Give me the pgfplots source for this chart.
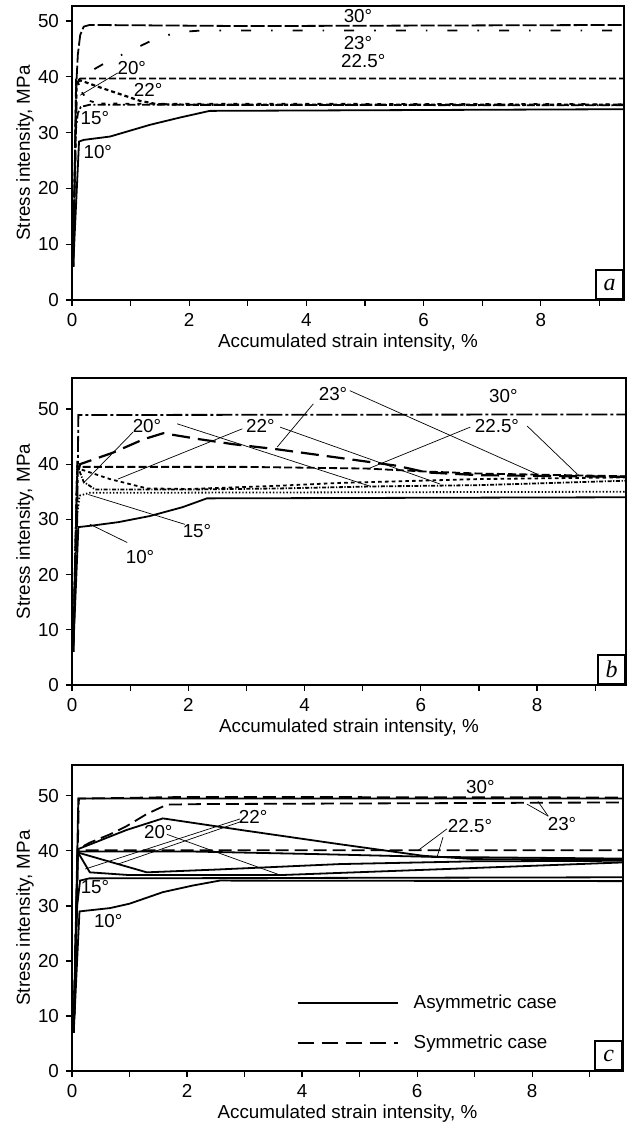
\documentclass[border=0pt]{standalone}
\usepackage{fontspec}
\setmainfont{Liberation Sans}
\newfontfamily\serifit{Liberation Serif}
\usepackage{pgfplots}
\pgfplotsset{compat=1.18}

\pgfplotsset{
  panel/.style={
    scale only axis, xmin=0, ymin=0,
    xtick={0,2,4,6,8}, minor xtick={1,3,5,7,9}, ytick={0,10,20,30,40,50},
    tick align=outside, tick pos=left,
    major tick length=3pt, minor tick length=3pt,
    every tick/.append style={black, line width=0.6pt},
    axis line style={line width=0.8pt},
    font=\fontsize{9.4}{11}\selectfont,
    /pgf/number format/assume math mode=true,
    xlabel={Accumulated strain intensity, \%},
    ylabel={Stress intensity, MPa},
    xlabel style={at={([yshift=-21.5pt]axis description cs:0.5,0)}, anchor=center},
    ylabel style={at={([xshift=-23.5pt]axis description cs:0,0.5)}, anchor=center},
  },
}
\tikzset{
  deg/.style={font=\fontsize{9.4}{11}\selectfont, inner sep=0pt},
  lead/.style={line width=0.35pt},
  crv/.style={black, line width=0.9pt},
  tag/.style={draw, line width=0.8pt, anchor=south east, minimum width=13.5pt,
    minimum height=14.5pt, inner sep=0pt, font=\fontsize{12}{12}\serifit\itshape},
}

\begin{document}
\begin{tikzpicture}
\useasboundingbox (-36pt,3pt) rectangle (281pt,-558pt);

% ---------- panel a ----------
\begin{axis}[panel, at={(0pt,0pt)}, anchor=north west,
  width=276pt, height=147pt, xmax=9.42, ymax=52.7]
\addplot[crv, dash pattern=on 7pt off 1.5pt] coordinates
  {(0.02,6)(0.05,25)(0.07,38)(0.1,44)(0.14,47.5)(0.2,49)(0.3,49.3)(3,49.1)(9.42,49.3)};
\addplot[crv, dash pattern=on 5pt off 10pt on 0.8pt off 10pt] coordinates
  {(0.02,6)(0.08,37)(0.15,40.2)(0.3,40.9)(0.6,42.7)(1.0,44.7)(1.4,46.7)(1.8,48.0)(2.2,48.3)(9.42,48.3)};
\addplot[crv, dash pattern=on 3.5pt off 1.5pt] coordinates
  {(0.02,6)(0.07,39.5)(0.15,39.7)(9.42,39.7)};
\addplot[crv, line width=1.1pt, dash pattern=on 2pt off 1.5pt] coordinates
  {(0.02,6)(0.08,39.6)(0.48,38.1)(0.82,36.9)(1.16,35.7)(1.45,35.1)(2,35.0)(9.42,35.0)};
\addplot[crv, dash pattern=on 2pt off 4pt] coordinates
  {(0.02,6)(0.08,39.8)(0.15,37.5)(0.27,35.8)(0.45,35.2)(9.42,35.1)};
\addplot[crv, dash pattern=on 4pt off 1.2pt on 1pt off 1.2pt] coordinates
  {(0.02,6)(0.06,30)(0.1,33.5)(0.15,34.6)(0.3,35.0)(9.42,34.9)};
\addplot[crv] coordinates
  {(0.02,6)(0.12,28.4)(0.2,28.7)(0.65,29.3)(1.33,31.4)(1.84,32.7)(2.35,33.9)(9.42,34.2)};
\node[deg] at (axis cs:4.88,50.9) {30°};
\node[deg] at (axis cs:4.88,46.1) {23°};
\node[deg] at (axis cs:4.97,42.8) {22.5°};
\node[deg] at (axis cs:1.02,41.6) {20°};
\node[deg] at (axis cs:1.30,37.6) {22°};
\node[deg] at (axis cs:0.39,32.6) {15°};
\node[deg] at (axis cs:0.44,26.5) {10°};
\draw[lead] (axis cs:0.78,40.7) -- (axis cs:0.14,36.7);
\node[tag] at (rel axis cs:1,0) {a};
\end{axis}

% ---------- panel b ----------
\begin{axis}[panel, at={(0pt,-186pt)}, anchor=north west,
  width=277pt, height=153.5pt, xmax=9.53, ymax=55.6]
\addplot[crv, dash pattern=on 8pt off 1.5pt on 1.5pt off 1.5pt] coordinates
  {(0.02,6)(0.09,30)(0.11,48.9)(9.53,49.0)};
\addplot[crv, line width=1.1pt, dash pattern=on 9pt off 4pt] coordinates
  {(0.02,6)(0.09,38)(0.14,40.0)(0.71,42.1)(1.23,44.5)(1.57,45.6)(2.2,44.5)(2.78,43.6)(3.52,42.7)(4.56,41.2)(5.59,39.7)(6.1,38.5)(7,38.0)(9.53,37.7)};
\addplot[crv, dash pattern=on 4pt off 1.6pt] coordinates
  {(0.02,6)(0.09,39.5)(0.3,39.5)(3,39.5)(5.07,39.2)(6,38.7)(7,38.3)(9.53,37.8)};
\addplot[crv, dash pattern=on 1.8pt off 1.6pt] coordinates
  {(0.02,6)(0.09,39.5)(0.14,39.1)(0.65,37.3)(1.29,35.6)(2.0,35.5)(3.58,36.1)(4.61,36.6)(7.02,37.3)(9.53,37.6)};
\addplot[crv, dash pattern=on 2pt off 0.8pt on 0.6pt off 0.8pt] coordinates
  {(0.02,6)(0.09,39.8)(0.2,36.8)(0.4,35.4)(2,35.4)(3.58,35.6)(5.13,35.95)(7.02,36.2)(9.53,37.0)};
\addplot[crv, dash pattern=on 0.7pt off 1pt] coordinates
  {(0.02,6)(0.08,30)(0.13,34.3)(0.3,34.8)(9.53,35.0)};
\addplot[crv] coordinates
  {(0.02,6)(0.11,28.6)(0.37,28.9)(0.8,29.5)(1.34,30.6)(1.9,32.2)(2.32,33.8)(9.53,34.0)};
\node[deg] at (axis cs:7.42,52.4) {30°};
\node[deg] at (axis cs:4.49,52.7) {23°};
\node[deg] at (axis cs:7.31,46.9) {22.5°};
\node[deg] at (axis cs:1.29,46.9) {20°};
\node[deg] at (axis cs:3.24,46.9) {22°};
\node[deg] at (axis cs:2.15,27.8) {15°};
\node[deg] at (axis cs:1.17,23.1) {10°};
\draw[lead] (axis cs:1.05,45.8) -- (axis cs:0.19,36.5);
\draw[lead] (axis cs:1.81,47.3) -- (axis cs:5.13,36.0);
\draw[lead] (axis cs:2.93,46.4) -- (axis cs:0.79,37.3);
\draw[lead] (axis cs:3.58,46.7) -- (axis cs:6.33,36.4);
\draw[lead] (axis cs:4.15,50.9) -- (axis cs:3.53,43.1);
\draw[lead] (axis cs:4.78,53.3) -- (axis cs:8.0,38.2);
\draw[lead] (axis cs:6.85,46.7) -- (axis cs:5.08,39.1);
\draw[lead] (axis cs:7.83,46.9) -- (axis cs:8.69,38.2);
\draw[lead] (axis cs:1.94,29.1) -- (axis cs:0.28,34.5);
\draw[lead] (axis cs:0.95,25.8) -- (axis cs:0.31,29.1);
\node[tag] at (rel axis cs:1,0) {b};
\end{axis}

% ---------- panel c ----------
\begin{axis}[panel, at={(0pt,-379.5pt)}, anchor=north west,
  width=275.5pt, height=153pt, xmax=9.58, ymax=55.6,
  legend style={draw=none, fill=none, inner sep=0pt, at={(axis cs:3.9,14.4)},
    anchor=north west, row sep=8.5pt, nodes={inner sep=1.5pt},
    font=\fontsize{9.4}{11}\selectfont},
  legend cell align=left,
  legend image code/.code={\draw[#1] (0pt,0pt) -- (50pt,0pt);}]
\addlegendimage{black, line width=1pt}
\addlegendentry{\hspace{6pt}Asymmetric case}
\addlegendimage{black, line width=1pt, dash pattern=on 8pt off 4pt}
\addlegendentry{\hspace{6pt}Symmetric case}
% asymmetric (solid)
\addplot[crv, forget plot] coordinates {(0.03,7)(0.11,49.5)(9.58,49.5)};
\addplot[crv, forget plot] coordinates
  {(0.03,7)(0.1,40.3)(0.37,41.4)(0.95,43.8)(1.58,45.9)(3,43.7)(4.66,41.2)(6.11,39.1)(7,38.5)(9.58,38.4)};
\addplot[crv, forget plot] coordinates
  {(0.03,7)(0.1,39.9)(2,39.9)(4.31,39.4)(6.3,38.9)(9.58,38.6)};
\addplot[crv, forget plot] coordinates
  {(0.03,7)(0.1,39.7)(0.7,37.9)(1.3,36.1)(2.5,36.6)(4.66,37.6)(7,38.1)(9.58,38.2)};
\addplot[crv, forget plot] coordinates
  {(0.03,7)(0.1,39.8)(0.31,36.1)(1,35.6)(3.62,35.6)(6.5,36.7)(9.58,37.9)};
\addplot[crv, forget plot] coordinates
  {(0.03,7)(0.09,30)(0.14,34.6)(0.3,35.0)(9.58,35.2)};
\addplot[crv, forget plot] coordinates
  {(0.03,7)(0.13,29.0)(0.66,29.6)(1.0,30.4)(1.58,32.5)(2.1,33.7)(2.57,34.6)(9.58,34.5)};
% symmetric (dashed)
\addplot[crv, forget plot, dash pattern=on 6.5pt off 3pt] coordinates
  {(0.03,7)(0.12,49.5)(2,49.8)(9.58,49.7)};
\addplot[crv, forget plot, dash pattern=on 6.5pt off 3pt] coordinates
  {(0.03,7)(0.1,40.3)(0.31,41.5)(0.66,43.0)(0.95,44.5)(1.30,46.7)(1.65,48.4)(2.23,48.5)(9.58,48.8)};
\addplot[crv, forget plot, dash pattern=on 6.5pt off 3pt] coordinates
  {(0.03,7)(0.1,40.1)(9.58,40.1)};
\node[deg] at (axis cs:7.10,51.6) {30°};
\node[deg] at (axis cs:8.52,44.9) {23°};
\node[deg] at (axis cs:6.92,44.5) {22.5°};
\node[deg] at (axis cs:3.15,46.1) {22°};
\node[deg] at (axis cs:1.50,43.4) {20°};
\node[deg] at (axis cs:0.40,33.4) {15°};
\node[deg] at (axis cs:0.63,27.2) {10°};
\draw[lead] (axis cs:8.28,46.3) -- (axis cs:7.91,48.5);
\draw[lead] (axis cs:8.28,46.3) -- (axis cs:8.10,49.0);
\draw[lead] (axis cs:6.52,44.0) -- (axis cs:6.02,40.1);
\draw[lead] (axis cs:6.45,42.5) -- (axis cs:6.35,39.0);
\draw[lead] (axis cs:2.92,45.8) -- (axis cs:0.23,36.7);
\draw[lead] (axis cs:2.96,45.4) -- (axis cs:0.8,37.6);
\draw[lead] (axis cs:1.65,43.0) -- (axis cs:3.62,35.6);
\node[tag] at (rel axis cs:1,0) {c};
\end{axis}
\end{tikzpicture}
\end{document}
